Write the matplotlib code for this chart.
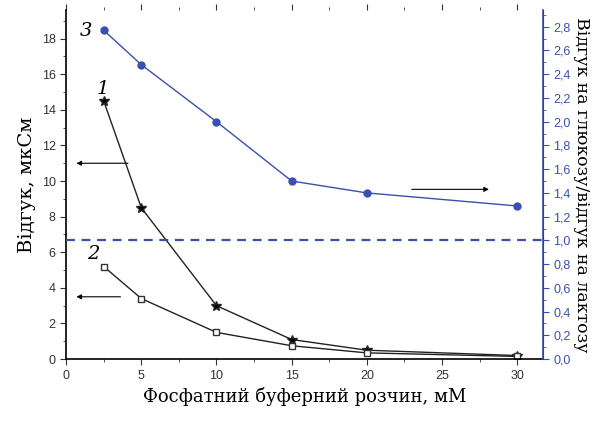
import matplotlib
matplotlib.use('Agg')
import matplotlib.pyplot as plt
from matplotlib.ticker import MultipleLocator, FuncFormatter

x = [2.5, 5, 10, 15, 20, 30]
resp1 = [14.5, 8.5, 3.0, 1.1, 0.5, 0.2]
resp2 = [5.2, 3.4, 1.5, 0.75, 0.35, 0.15]
ratio3 = [2.77, 2.48, 2.0, 1.5, 1.4, 1.29]
blue = '#3a4fb0'

fig = plt.figure(figsize=(6.12, 4.21), dpi=100)
ax = fig.add_axes([0.108, 0.147, 0.779, 0.829])
ax2 = ax.twinx()

ax.plot(x, resp1, '-', color='#222222', lw=1, marker='*', ms=7, mfc='black')
ax.plot(x, resp2, '-', color='#222222', lw=1, marker='s', ms=5, mfc='white', mec='#333333')
ax2.plot(x, ratio3, '-', color=blue, lw=1, marker='o', ms=5, mfc=blue)
ax2.axhline(1.0, color=blue, ls='--', lw=1.6, dashes=(4, 3))

ax.set_xlim(0, 31.7)
ax.set_ylim(0, 19.6)
ax2.set_ylim(0, 2.94)

ax.xaxis.set_major_locator(MultipleLocator(5))
ax.xaxis.set_minor_locator(MultipleLocator(2.5))
ax.yaxis.set_major_locator(MultipleLocator(2))
ax.yaxis.set_minor_locator(MultipleLocator(1))
ax2.yaxis.set_major_locator(MultipleLocator(0.2))
ax2.yaxis.set_minor_locator(MultipleLocator(0.1))
ax2.yaxis.set_major_formatter(FuncFormatter(lambda v, p: f'{v:.1f}'.replace('.', ',')))

for a in (ax, ax2):
    a.spines['top'].set_visible(False)
ax.tick_params(which='both', direction='out', top=True, labelsize=9, colors='#333333')
ax.tick_params(which='major', length=4)
ax.tick_params(which='minor', length=2)
ax2.tick_params(which='both', colors=blue, labelsize=9)
ax2.tick_params(which='major', length=4)
ax2.tick_params(which='minor', length=2)
ax2.spines['right'].set_color(blue)
ax2.spines['right'].set_linewidth(1.2)
ax.spines['left'].set_linewidth(1.2)
ax.spines['bottom'].set_linewidth(1.2)
ax2.spines['left'].set_visible(False)
ax2.spines['bottom'].set_visible(False)
for lab in ax.get_xticklabels() + ax.get_yticklabels() + ax2.get_yticklabels():
    lab.set_family('Liberation Sans')

ax.set_xlabel('Фосфатний буферний розчин, мМ', family='DejaVu Serif', fontsize=13)
ax.set_ylabel('Відгук, мкСм', family='DejaVu Serif', fontsize=14)
ax2.set_ylabel('Відгук на глюкозу/відгук на лактозу', family='DejaVu Serif',
               fontsize=12.5, rotation=270, labelpad=14)

ax.text(2.0, 14.9, '1', family='DejaVu Serif', style='italic', fontsize=14)
ax.text(1.4, 5.6, '2', family='DejaVu Serif', style='italic', fontsize=14)
ax2.text(0.9, 2.72, '3', family='DejaVu Serif', style='italic', fontsize=14)

arr = dict(arrowstyle='-|>', color='black', lw=0.8, mutation_scale=7)
ax.annotate('', xy=(0.5, 11.0), xytext=(4.3, 11.0), arrowprops=arr)
ax.annotate('', xy=(0.5, 3.5), xytext=(3.8, 3.5), arrowprops=arr)
ax2.annotate('', xy=(28.3, 1.43), xytext=(22.8, 1.43), arrowprops=arr)

fig.savefig('out.png', dpi=100)
